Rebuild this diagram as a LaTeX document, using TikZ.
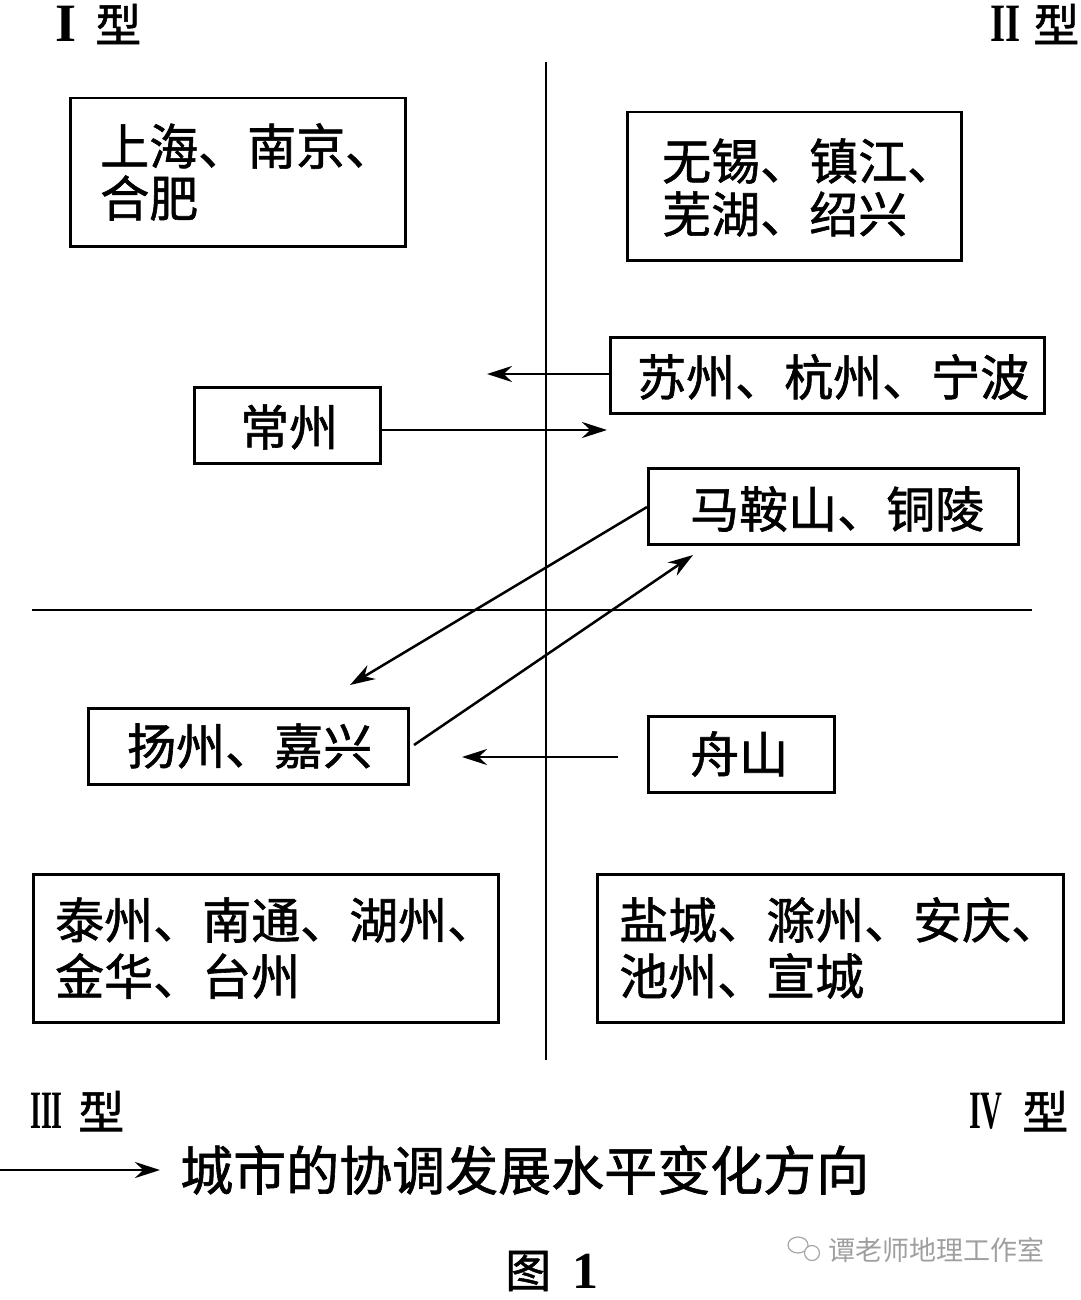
\documentclass[tikz,border=0pt]{standalone}
\usepackage{fontspec}
\newfontfamily\cjk[FakeBold=1.2]{Noto Sans CJK SC}
\newfontfamily\cjkw{Noto Sans CJK SC}
\newfontfamily\rom{Liberation Serif}
\usetikzlibrary{arrows.meta,shapes.geometric}
\begin{document}
\begin{tikzpicture}[x=1pt,y=-1pt,
  box/.style={draw, line width=2.5pt, inner sep=0pt, anchor=north west},
  lbl/.style={anchor=west, inner sep=0pt, font=\cjk\fontsize{49}{58}\selectfont},
  typ/.style={anchor=west, inner sep=0pt, font=\cjk\fontsize{46}{56}\selectfont},
  romn/.style={anchor=west, inner sep=0pt, font=\rom\bfseries\fontsize{54}{60}\selectfont},
  axis/.style={line width=2.5pt},
  arr/.style={-{Stealth[length=25pt,width=16pt]}, line width=2.5pt}]
\useasboundingbox (0,0) rectangle (1080,1300);

% axes
\coordinate (vt) at (546,62);
\coordinate (vb) at (546,1060);
\coordinate (hl) at (32,610);
\coordinate (hr) at (1032,610);
\draw[axis] (vt) -- (vb);
\draw[axis] (hl) -- (hr);

% type labels
\node[romn] (r1) at (55,24) {I};
\node[typ] (y1) at (95,24) {型};
\node[romn, xscale=0.72] (r2) at (990,24) {II};
\node[typ] (y2) at (1033,24) {型};
\node[romn, xscale=0.52] (r3) at (30,1111) {III};
\node[typ] (y3) at (78,1111) {型};
\node[romn, xscale=0.56] (r4) at (969,1111) {IV};
\node[typ] (y4) at (1022,1111) {型};

% boxes
\node[box, minimum width=335pt, minimum height=148pt] (b1) at (69,97) {};
\node[lbl] (t1a) at (100,146) {上海、南京、};
\node[lbl] (t1b) at (100,198) {合肥};

\node[box, minimum width=334pt, minimum height=148pt] (b2) at (626,111) {};
\node[lbl] (t2a) at (662,161) {无锡、镇江、};
\node[lbl] (t2b) at (662,214) {芜湖、绍兴};

\node[box, minimum width=434pt, minimum height=76pt] (b3) at (609,336) {};
\node[lbl] (t3) at (637,377) {苏州、杭州、宁波};

\node[box, minimum width=186pt, minimum height=76pt] (b4) at (193,386) {};
\node[lbl] (t4) at (240,427) {常州};

\node[box, minimum width=370pt, minimum height=76pt] (b5) at (647,467) {};
\node[lbl] (t5) at (690,509) {马鞍山、铜陵};

\node[box, minimum width=320pt, minimum height=76pt] (b6) at (87,707) {};
\node[lbl] (t6) at (127,746) {扬州、嘉兴};

\node[box, minimum width=186pt, minimum height=76pt] (b7) at (647,715) {};
\node[lbl] (t7) at (690,754) {舟山};

\node[box, minimum width=465pt, minimum height=148pt] (b8) at (32,873) {};
\node[lbl] (t8a) at (55,920) {泰州、南通、湖州、};
\node[lbl] (t8b) at (55,976) {金华、台州};

\node[box, minimum width=466pt, minimum height=148pt] (b9) at (596,873) {};
\node[lbl] (t9a) at (619,920) {盐城、滁州、安庆、};
\node[lbl] (t9b) at (619,976) {池州、宣城};

% change arrows
\coordinate (a3) at (487,374);
\draw[arr] (b3.west |- a3) -- (a3);
\coordinate (a4) at (607,430);
\draw[arr] (b4.east |- a4) -- (a4);
\coordinate (s5) at (647,507);
\coordinate (e5) at (350,685);
\draw[arr] (s5) -- (e5);
\coordinate (s6) at (414,745);
\coordinate (e6) at (693,555);
\draw[arr] (s6) -- (e6);
\coordinate (s7) at (618,757);
\coordinate (e7) at (462,757);
\draw[arr] (s7) -- (e7);

% legend
\coordinate (la) at (0,1170);
\coordinate (lb) at (160,1170);
\draw[arr] (la) -- (lb);
\node[anchor=west, inner sep=0pt, font=\cjk\fontsize{53}{60}\selectfont] (lg) at (180,1170) {城市的协调发展水平变化方向};

% watermark
\node[draw=gray!70, line width=1.2pt, ellipse, minimum width=20pt, minimum height=16pt, inner sep=0pt] (w1) at (798,1245) {};
\node[draw=gray!70, fill=white, line width=1.2pt, circle, minimum size=15pt, inner sep=0pt] (w2) at (812,1253) {};
\node[anchor=west, inner sep=0pt, text=gray!75, font=\cjkw\fontsize{27}{30}\selectfont] (wm) at (828,1250) {谭老师地理工作室};

% caption
\node[anchor=west, inner sep=0pt, font=\cjk\fontsize{46}{56}\selectfont] (cap) at (505,1271) {图};
\node[anchor=west, inner sep=0pt, font=\rom\bfseries\fontsize{52}{56}\selectfont] (cap1) at (572,1271) {1};
\end{tikzpicture}
\end{document}
